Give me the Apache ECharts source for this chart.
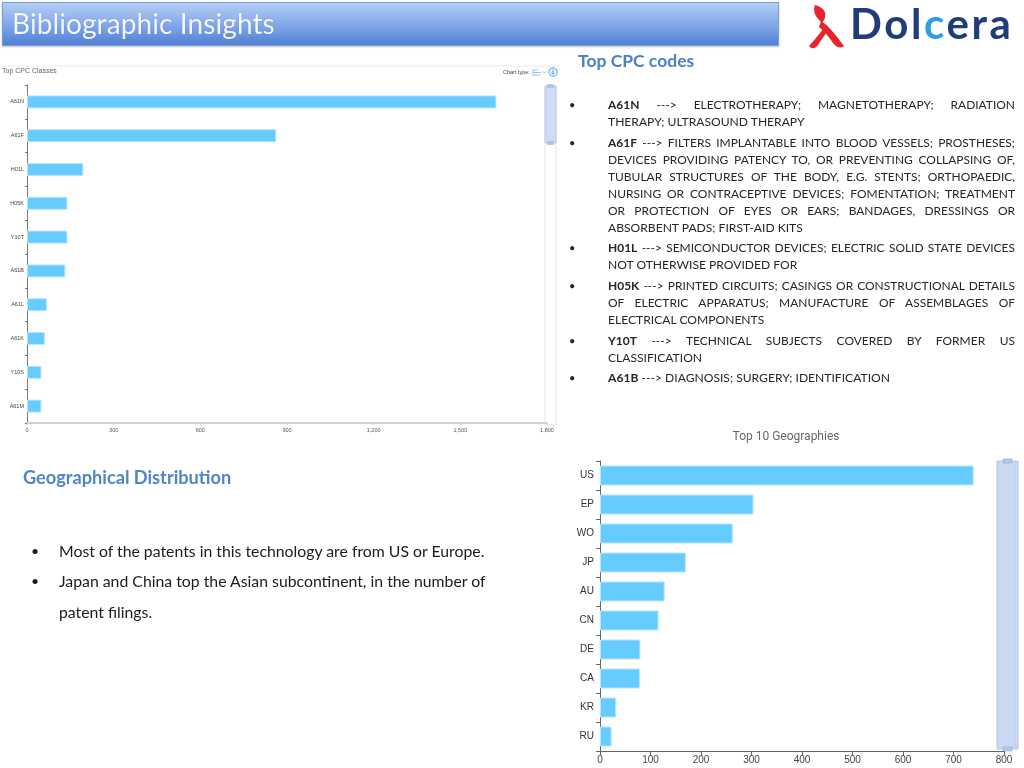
<!DOCTYPE html>
<html>
<head>
<meta charset="utf-8">
<script src="https://cdn.jsdelivr.net/npm/echarts@6/dist/echarts.min.js"></script>
<style>
html,body{margin:0;padding:0;background:#fff;}
#page{position:relative;width:1024px;height:768px;overflow:hidden;font-family:Lato,'Open Sans',sans-serif;}
#chart{position:absolute;left:0;top:0;width:1024px;height:768px;}
.ov{position:absolute;white-space:nowrap;}
#header{left:2px;top:2px;width:775px;height:42px;border:1px solid #7f9ccc;
  background:linear-gradient(to bottom,#b3cdf5 0%,#93b5ee 35%,#6f9ae3 70%,#4f80d4 100%);
  box-shadow:0 1px 2px rgba(60,80,120,0.35);}
#header span{position:absolute;left:9px;top:3px;font-size:28px;color:#f4f6fa;letter-spacing:0.1px;
  text-shadow:0 0 1px rgba(40,60,110,0.4);}
#logoText{left:850px;top:-2px;font-size:42px;font-weight:bold;color:#1f3d78;letter-spacing:2.6px;font-family:Lato,sans-serif;}
#logoText .c{color:#2d9fe0;}
#cpcTitle{left:578px;top:50px;font-size:17.5px;font-weight:bold;color:#4a80c4;}
#cpcList{position:absolute;left:608px;top:96px;width:407px;font-size:12.1px;line-height:17px;color:#262626;}
#cpcList .p{position:relative;margin-bottom:3.7px;}
#cpcList .p:before{content:"\2022";position:absolute;left:-39px;top:0;font-size:11px;}
#cpcList .p > div{white-space:nowrap;}
#cpcList .j{text-align:justify;text-align-last:justify;}
#geoTitle{left:23px;top:466px;font-size:18.2px;font-weight:bold;color:#4f86c6;}
.gb{left:59px;font-size:15.8px;color:#1c1c1c;}
.gd{left:31px;font-size:14px;color:#1c1c1c;}
</style>
</head>
<body>
<div id="page">
  <div id="chart"></div>
  <div id="header" class="ov"><span>Bibliographic Insights</span></div>
  <svg class="ov" style="left:804px;top:2px" width="46" height="50" viewBox="0 0 46 50">
    <path d="M11 3 C20 5 25 12 18 21 C13 16 8 11 11 3 Z" fill="#e8242a"/>
    <path d="M17 19 C25 24 31 32 40 44 C36 47 32 45 29 41 C25 35 21 30 15 25 Z" fill="#e8242a"/>
    <path d="M19 27 C15 33 10 38 5 44 C8 48 12 46 14 43 C17 38 20 34 23 30 Z" fill="#e8242a"/>
  </svg>
  <div id="logoText" class="ov">Dol<span class="c">c</span>era</div>
  <div id="cpcTitle" class="ov">Top CPC codes</div>
  <div id="cpcList">
    <div class="p"><div class="j"><b>A61N</b> ---&gt; ELECTROTHERAPY; MAGNETOTHERAPY; RADIATION</div><div>THERAPY; ULTRASOUND THERAPY</div></div>
    <div class="p"><div class="j"><b>A61F</b> ---&gt; FILTERS IMPLANTABLE INTO BLOOD VESSELS; PROSTHESES;</div><div class="j">DEVICES PROVIDING PATENCY TO, OR PREVENTING COLLAPSING OF,</div><div class="j">TUBULAR STRUCTURES OF THE BODY, E.G. STENTS; ORTHOPAEDIC,</div><div class="j">NURSING OR CONTRACEPTIVE DEVICES; FOMENTATION; TREATMENT</div><div class="j">OR PROTECTION OF EYES OR EARS; BANDAGES, DRESSINGS OR</div><div>ABSORBENT PADS; FIRST-AID KITS</div></div>
    <div class="p"><div class="j"><b>H01L</b> ---&gt; SEMICONDUCTOR DEVICES; ELECTRIC SOLID STATE DEVICES</div><div>NOT OTHERWISE PROVIDED FOR</div></div>
    <div class="p"><div class="j"><b>H05K</b> ---&gt; PRINTED CIRCUITS; CASINGS OR CONSTRUCTIONAL DETAILS</div><div class="j">OF ELECTRIC APPARATUS; MANUFACTURE OF ASSEMBLAGES OF</div><div>ELECTRICAL COMPONENTS</div></div>
    <div class="p"><div class="j"><b>Y10T</b> ---&gt; TECHNICAL SUBJECTS COVERED BY FORMER US</div><div>CLASSIFICATION</div></div>
    <div class="p"><div><b>A61B</b> ---&gt; DIAGNOSIS; SURGERY; IDENTIFICATION</div></div>
  </div>
  <div id="geoTitle" class="ov">Geographical Distribution</div>
  <div class="ov gd" style="top:542px">&#8226;</div>
  <div class="ov gb" style="top:541px">Most of the patents in this technology are from US or Europe.</div>
  <div class="ov gd" style="top:572px">&#8226;</div>
  <div class="ov gb" style="top:571px">Japan and China top the Asian subcontinent, in the number of</div>
  <div class="ov gb" style="top:602px">patent filings.</div>
</div>
<script>
// ---- data ----
const cpcCategories = ['A61N', 'A61F', 'H01L', 'H05K', 'Y10T', 'A61B', 'A61L', 'A61K', 'Y10S', 'A61M'];
const cpcValues = [1625, 863, 195, 140, 140, 133, 69, 62, 50, 50];
const cpcAxisMax = 1800;
const cpcAxisStep = 300;

const geoCategories = ['US', 'EP', 'WO', 'JP', 'AU', 'CN', 'DE', 'CA', 'KR', 'RU'];
const geoValues = [740, 304, 263, 170, 128, 116, 80, 79, 32, 23];
const geoAxisMax = 800;
const geoAxisStep = 100;

const cpcChartTitle = 'Top CPC Classes';
const geoChartTitle = 'Top 10 Geographies';

// ---- fit justified text lines into the column ----
(function fitLines() {
  const colW = 407;
  document.querySelectorAll('#cpcList .p > div').forEach(function (line) {
    const probe = document.createElement('span');
    probe.innerHTML = line.innerHTML;
    probe.style.whiteSpace = 'nowrap';
    line.innerHTML = '';
    line.appendChild(probe);
    const w = probe.getBoundingClientRect().width;
    if (w > colW - 2) {
      const fs = parseFloat(getComputedStyle(line).fontSize);
      line.style.fontSize = (fs * (colW - 4) / w).toFixed(2) + 'px';
    }
    line.innerHTML = probe.innerHTML;
  });
})();

// ---- chart ----
const chart = echarts.init(document.getElementById('chart'), null, {renderer: 'canvas'});
const barColor = '#66ccff';
const barBorder = '#b5e6ff';
const axisFont = '"Liberation Sans", Arial, sans-serif';

const option = {
  animation: false,
  grid: [
    {left: 27, top: 85, width: 520, height: 338},
    {left: 600, top: 461, width: 404, height: 290}
  ],
  xAxis: [
    {
      gridIndex: 0, type: 'value', min: 0, max: cpcAxisMax, interval: cpcAxisStep,
      axisLine: {show: true, lineStyle: {color: '#d2d2d2', width: 2}},
      axisTick: {show: true, length: 2, lineStyle: {color: '#d2d2d2'}},
      axisLabel: {fontSize: 5.5, color: '#555', margin: 4, fontFamily: axisFont},
      splitLine: {show: false}
    },
    {
      gridIndex: 1, type: 'value', min: 0, max: geoAxisMax, interval: geoAxisStep,
      axisLine: {show: true, lineStyle: {color: '#666', width: 1}},
      axisTick: {show: true, length: 4, lineStyle: {color: '#666'}},
      axisLabel: {fontSize: 10, color: '#444', margin: 4, fontFamily: axisFont},
      splitLine: {show: false}
    }
  ],
  yAxis: [
    {
      gridIndex: 0, type: 'category', inverse: true, data: cpcCategories,
      axisLine: {show: true, lineStyle: {color: '#777', width: 1}},
      axisTick: {show: true, length: 2, lineStyle: {color: '#777'}},
      axisLabel: {fontSize: 5.5, color: '#444', margin: 3, fontFamily: axisFont}
    },
    {
      gridIndex: 1, type: 'category', inverse: true, data: geoCategories,
      axisLine: {show: true, lineStyle: {color: '#666', width: 1}},
      axisTick: {show: true, length: 4, lineStyle: {color: '#666'}},
      axisLabel: {fontSize: 10, color: '#333', margin: 6, fontFamily: axisFont}
    }
  ],
  series: [
    {
      type: 'bar', xAxisIndex: 0, yAxisIndex: 0, data: cpcValues, barWidth: 13,
      itemStyle: {color: barColor, borderColor: barBorder, borderWidth: 1}
    },
    {
      type: 'bar', xAxisIndex: 1, yAxisIndex: 1, data: geoValues, barWidth: 20,
      itemStyle: {color: barColor, borderColor: barBorder, borderWidth: 1}
    }
  ],
  graphic: [
    {type: 'line', shape: {x1: 0, y1: 66, x2: 560, y2: 66}, style: {stroke: '#ececec', lineWidth: 1}},
    {type: 'text', x: 2, y: 71, style: {text: cpcChartTitle, fontSize: 7, fill: '#666', textVerticalAlign: 'middle', fontFamily: axisFont}},
    {type: 'text', x: 503, y: 72, style: {text: 'Chart type:', fontSize: 5.5, fill: '#444', textVerticalAlign: 'middle', fontFamily: axisFont}},
    {type: 'line', shape: {x1: 533, y1: 69, x2: 533, y2: 76}, style: {stroke: '#9cc3e6', lineWidth: 1}},
    {type: 'line', shape: {x1: 533, y1: 70, x2: 538, y2: 70}, style: {stroke: '#9cc3e6', lineWidth: 1}},
    {type: 'line', shape: {x1: 533, y1: 72.5, x2: 541, y2: 72.5}, style: {stroke: '#9cc3e6', lineWidth: 1}},
    {type: 'line', shape: {x1: 533, y1: 75, x2: 540, y2: 75}, style: {stroke: '#9cc3e6', lineWidth: 1}},
    {type: 'polyline', shape: {points: [[543, 71.5], [544.5, 73], [546, 71.5]]}, style: {stroke: '#999', fill: null, lineWidth: 0.8}},
    {type: 'circle', shape: {cx: 553, cy: 72, r: 4.2}, style: {stroke: '#49a6e8', fill: '#eaf5fd', lineWidth: 1}},
    {type: 'line', shape: {x1: 553, y1: 69.5, x2: 553, y2: 74}, style: {stroke: '#49a6e8', lineWidth: 1}},
    {type: 'polyline', shape: {points: [[551.3, 72.5], [553, 74.2], [554.7, 72.5]]}, style: {stroke: '#49a6e8', fill: null, lineWidth: 0.9}},
    // left slider
    {type: 'rect', shape: {x: 545, y: 86, width: 11, height: 339}, style: {fill: '#fff', stroke: '#e4e7ec', lineWidth: 1}},
    {type: 'rect', shape: {x: 545, y: 86, width: 11, height: 57}, style: {fill: 'rgba(167,192,235,0.55)', stroke: '#bccbe6', lineWidth: 1}},
    {type: 'rect', shape: {x: 547.5, y: 84.5, width: 6, height: 3}, style: {fill: '#b3c4e2', stroke: '#9fb3d6', lineWidth: 0.5}},
    {type: 'rect', shape: {x: 547.5, y: 141.5, width: 6, height: 3}, style: {fill: '#b3c4e2', stroke: '#9fb3d6', lineWidth: 0.5}},
    // geo title
    {type: 'text', x: 786, y: 437, style: {text: geoChartTitle, fontSize: 12, fill: '#666', textAlign: 'center', textVerticalAlign: 'middle', fontFamily: 'Roboto, sans-serif'}},
    // geo slider
    {type: 'rect', shape: {x: 997, y: 461, width: 21, height: 288}, style: {fill: '#c9d9f3', stroke: '#b4c6e4', lineWidth: 1}},
    {type: 'line', shape: {x1: 1015, y1: 462, x2: 1015, y2: 748}, style: {stroke: '#bccde8', lineWidth: 1}},
    {type: 'rect', shape: {x: 1003, y: 459, width: 9, height: 4}, style: {fill: '#b5c7e6', stroke: '#98add3', lineWidth: 0.6}},
    {type: 'rect', shape: {x: 1003, y: 747, width: 9, height: 4}, style: {fill: '#b5c7e6', stroke: '#98add3', lineWidth: 0.6}}
  ]
};
chart.setOption(option);
</script>
</body>
</html>
